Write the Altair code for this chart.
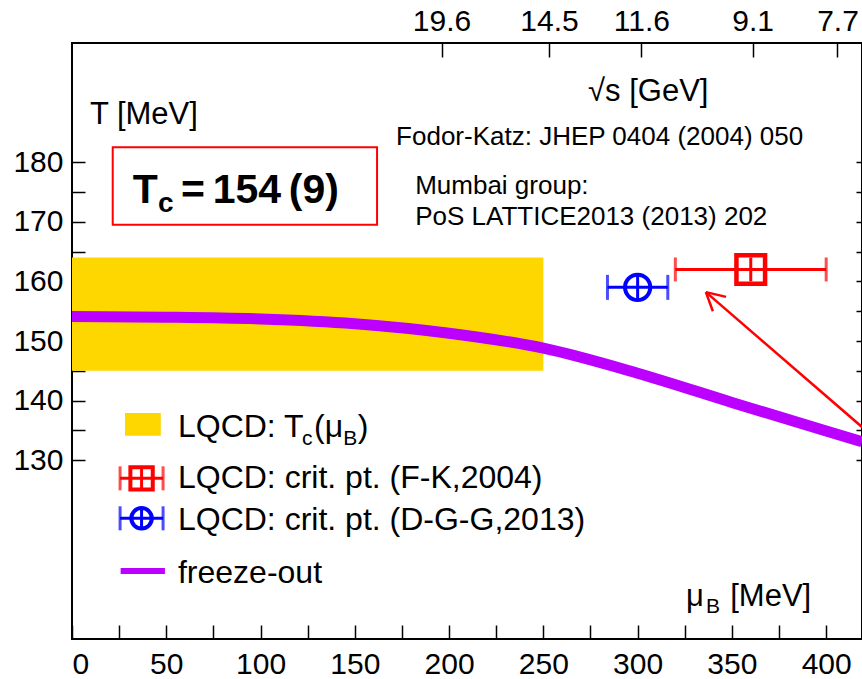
import altair as alt
import pandas as pd

FONT = "Liberation Sans"
RED = "#FF0000"
BLUE = "#0000FF"
GOLD = "#FFD700"
PURPLE = "#BB00FF"

# axis ranges: baryon chemical potential and temperature, both in MeV
MU_RANGE = [0, 419]
T_RANGE = [100, 200]

# lattice QCD transition band T_c(mu_B)
band_mu = [0, 250]
band_T = [145, 164]

# chemical freeze-out curve
fo_mu = [0, 50, 100, 150, 200, 250, 300, 350, 400, 419]
fo_T = [154.1, 154.0, 153.7, 152.9, 151.3, 148.8, 144.6, 139.7, 134.9, 133.1]

# critical-point estimates: Fodor-Katz 2004 and Datta-Gavai-Gupta 2013
fk_mu, fk_mu_lo, fk_mu_hi = [360], [320], [400]
fk_T, fk_T_lo, fk_T_hi = [162], [160], [164]
dgg_mu, dgg_mu_lo, dgg_mu_hi = [300], [284], [316]
dgg_T, dgg_T_lo, dgg_T_hi = [159], [157], [161]

# collision energy scale on the top axis (position in mu_B, label in GeV)
sqrts_mu = [196, 253, 302, 361, 406]
sqrts_labels = ["19.6", "14.5", "11.6", "9.1", "7.7"]

mu_ticks = list(range(0, 401, 25))
T_ticks = list(range(130, 181, 5))

xs = alt.Scale(domain=MU_RANGE, nice=False, zero=False)
ys = alt.Scale(domain=T_RANGE, nice=False, zero=False)


def X(f, axis=None):
    return alt.X(f, type="quantitative", scale=xs, axis=axis)


def Y(f, axis=None):
    return alt.Y(f, type="quantitative", scale=ys, axis=axis)


label_style = dict(labelFont=FONT, labelFontSize=30, labelColor="black",
                   tickColor="black", tickWidth=1.5, domain=False, grid=False,
                   title=None, labelOverlap=False)

axis_bottom = alt.Axis(orient="bottom", values=mu_ticks,
                       labelExpr="datum.value % 50 == 0 ? datum.label : ''",
                       tickSize=14, offset=-14, labelPadding=10, labelFlush=True,
                       **label_style)
axis_left = alt.Axis(orient="left", values=T_ticks,
                     labelExpr="datum.value % 10 == 0 ? datum.label : ''",
                     tickSize=13, offset=-13, labelPadding=9, **label_style)
top_expr = " : ".join(f"datum.value == {m} ? '{l}'"
                      for m, l in zip(sqrts_mu, sqrts_labels)) + " : ''"
axis_top = alt.Axis(orient="top", values=sqrts_mu, labelExpr=top_expr,
                    tickSize=14, offset=-14, labelPadding=7, labelFlush=False,
                    **label_style)
axis_right = alt.Axis(orient="right", values=T_ticks, labels=False, domain=False,
                      grid=False, tickSize=6, offset=-6, tickColor="black",
                      tickWidth=1.5, title=None)

# --- data layers ---
band_df = pd.DataFrame({"mu0": [band_mu[0]], "mu1": [band_mu[1]],
                        "T0": [band_T[0]], "T1": [band_T[1]]})
band = alt.Chart(band_df).mark_rect(color=GOLD).encode(
    x=X("mu0", axis_bottom), x2="mu1", y=Y("T0", axis_left), y2="T1")

fo_df = pd.DataFrame({"mu": fo_mu, "T": fo_T})
freeze = alt.Chart(fo_df).mark_line(
    color=PURPLE, strokeWidth=11, interpolate="monotone", clip=True,
    strokeCap="butt").encode(x=X("mu", axis_top), y=Y("T", axis_right))


def crit_point(mu, lo, hi, T, Tlo, Thi, color, shape, size, cap, width=4):
    df = pd.DataFrame({"mu": mu, "lo": lo, "hi": hi, "T": T, "Tlo": Tlo, "Thi": Thi})
    base = alt.Chart(df)
    hbar = base.mark_rule(color=color, strokeWidth=3).encode(
        x=X("lo"), x2="hi", y=Y("T"))
    vbar = base.mark_rule(color=color, strokeWidth=3).encode(
        x=X("mu"), y=Y("Tlo"), y2="Thi")
    cap_lo = base.mark_tick(color=color, orient="vertical", size=cap,
                            thickness=3).encode(x=X("lo"), y=Y("T"))
    cap_hi = base.mark_tick(color=color, orient="vertical", size=cap,
                            thickness=3).encode(x=X("hi"), y=Y("T"))
    marker = base.mark_point(shape=shape, filled=False, color=color, size=size,
                             strokeWidth=width, opacity=1).encode(x=X("mu"), y=Y("T"))
    return [hbar, vbar, cap_lo, cap_hi, marker]


fk_layers = crit_point(fk_mu, fk_mu_lo, fk_mu_hi, fk_T, fk_T_lo, fk_T_hi,
                       RED, "square", 820, 24, 4.5)
dgg_layers = crit_point(dgg_mu, dgg_mu_lo, dgg_mu_hi, dgg_T, dgg_T_lo, dgg_T_hi,
                        BLUE, "circle", 640, 25)

# arrow pointing at the critical-point region
arrow_df = pd.DataFrame({
    "mu0": [336.2, 336.2, 336.2],
    "T0": [158.2, 158.2, 158.2],
    "mu1": [450.0, 346.9, 339.9],
    "T1": [127.1, 157.4, 155.0],
})
arrow = alt.Chart(arrow_df).mark_rule(color=RED, strokeWidth=2.5, clip=True).encode(
    x=X("mu0"), y=Y("T0"), x2="mu1", y2="T1")

# --- legend ---
leg_band_df = pd.DataFrame({"mu0": [28.1], "mu1": [47.1], "T0": [134.1], "T1": [137.9]})
leg_band = alt.Chart(leg_band_df).mark_rect(color=GOLD).encode(
    x=X("mu0"), x2="mu1", y=Y("T0"), y2="T1")

leg_fk = crit_point([36.9], [25.5], [48.3], [126.96], [125.1], [128.8],
                    RED, "square", 500, 24)
leg_dgg = crit_point([36.9], [25.5], [48.3], [120.25], [118.4], [122.1],
                     BLUE, "circle", 420, 24)

leg_line_df = pd.DataFrame({"mu0": [25.8], "mu1": [49.3], "T": [111.4]})
leg_line = alt.Chart(leg_line_df).mark_rule(color=PURPLE, strokeWidth=6).encode(
    x=X("mu0"), x2="mu1", y=Y("T"))

# --- text ---
texts = pd.DataFrame([
    # legend labels
    {"mu": 56.2, "T": 133.9, "text": "LQCD: T", "size": 32},
    {"mu": 122.0, "T": 132.6, "text": "c", "size": 21},
    {"mu": 128.4, "T": 133.9, "text": "(\u03bc", "size": 32},
    {"mu": 143.8, "T": 132.6, "text": "B", "size": 21},
    {"mu": 151.6, "T": 133.9, "text": ")", "size": 32},
    {"mu": 56.2, "T": 125.3, "text": "LQCD: crit. pt. (F-K,2004)", "size": 32},
    {"mu": 56.2, "T": 118.3, "text": "LQCD: crit. pt. (D-G-G,2013)", "size": 32},
    {"mu": 56.2, "T": 109.4, "text": "freeze-out", "size": 32},
    # axis titles
    {"mu": 9.5, "T": 186.4, "text": "T [MeV]", "size": 31},
    {"mu": 273.7, "T": 190.3, "text": "\u221as [GeV]", "size": 31},
    {"mu": 325.7, "T": 105.5, "text": "\u03bc", "size": 31},
    {"mu": 336.3, "T": 104.4, "text": "B", "size": 21},
    {"mu": 349.1, "T": 105.5, "text": "[MeV]", "size": 31},
    # references
    {"mu": 171.9, "T": 182.9, "text": "Fodor-Katz: JHEP 0404 (2004) 050", "size": 26},
    {"mu": 182.0, "T": 174.7, "text": "Mumbai group:", "size": 26},
    {"mu": 182.0, "T": 169.5, "text": "PoS LATTICE2013 (2013) 202", "size": 26},
])
text_layer = alt.Chart(texts).mark_text(
    align="left", baseline="alphabetic", font=FONT, color="black").encode(
    x=X("mu"), y=Y("T"), text="text:N", size=alt.Size("size:Q", scale=None))

# boxed T_c value
tc_box_df = pd.DataFrame({"mu0": [21.6], "mu1": [161.8], "T0": [169.5], "T1": [182.5]})
tc_box = alt.Chart(tc_box_df).mark_rect(fill="white", stroke=RED, strokeWidth=2).encode(
    x=X("mu0"), x2="mu1", y=Y("T0"), y2="T1")
tc_texts = pd.DataFrame([
    {"mu": 32.2, "T": 173.1, "text": "T", "size": 41},
    {"mu": 45.6, "T": 171.6, "text": "c", "size": 28},
    {"mu": 57.8, "T": 173.1, "text": "=", "size": 41},
    {"mu": 74.6, "T": 173.1, "text": "154", "size": 41},
    {"mu": 115.0, "T": 173.1, "text": "(9)", "size": 41},
])
tc_text = alt.Chart(tc_texts).mark_text(
    align="left", baseline="alphabetic", font=FONT, fontWeight="bold",
    color="black").encode(
    x=X("mu"), y=Y("T"), text="text:N", size=alt.Size("size:Q", scale=None))

chart = alt.layer(
    band, freeze, *dgg_layers, *fk_layers, arrow,
    leg_band, *leg_fk, *leg_dgg, leg_line,
    text_layer, tc_box, tc_text,
).resolve_axis(x="independent", y="independent").properties(
    width=790, height=596,
    autosize=alt.AutoSizeParams(type="none"),
    padding={"left": 72, "top": 43, "right": 0, "bottom": 40},
    background="white",
).configure_view(stroke="black", strokeWidth=2)

chart.save("out.html", embed_options={"renderer": "svg", "actions": False})
